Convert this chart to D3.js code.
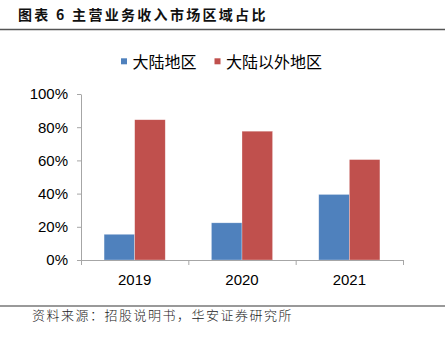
<!DOCTYPE html>
<html><head><meta charset="utf-8">
<script src="https://cdn.jsdelivr.net/npm/d3@7"></script>
<style>body{margin:0;background:#fff}svg{display:block}</style>
</head><body><svg id="c" width="445" height="338"></svg>
<script>
const categories = ["2019","2020","2021"];
const seriesNames = ["大陆地区","大陆以外地区"];
const mainland = [15.5, 22.4, 39.5];
const overseas = [84.5, 77.6, 60.5];
const yTicks = [0,20,40,60,80,100];
const colors = ["#4F81BD","#C0504D"];

const svg = d3.select("#c");
// title
svg.append("text").attr("x",18).attr("y",20).attr("font-family","Noto Sans CJK SC").attr("font-weight","bold")
  .attr("font-size",14).attr("letter-spacing",2.3).attr("fill","#111").text("图表 6 主营业务收入市场区域占比");
svg.append("line").attr("x1",0).attr("x2",445).attr("y1",29.5).attr("y2",29.5).attr("stroke","#555").attr("stroke-width",1.5);
svg.append("line").attr("x1",0).attr("x2",445).attr("y1",306).attr("y2",306).attr("stroke","#777").attr("stroke-width",1.5);
svg.append("text").attr("x",32).attr("y",320).attr("font-family","Noto Sans CJK SC").attr("font-weight",300)
  .attr("font-size",13).attr("letter-spacing",1.5).attr("fill","#222").text("资料来源：招股说明书，华安证券研究所");

const x0 = d3.scaleBand().domain(categories).range([81,403]).paddingInner(0.43).paddingOuter(0.215);
const x1 = d3.scaleBand().domain([0,1]).range([0,x0.bandwidth()]);
const y = d3.scaleLinear().domain([0,100]).range([260,94]);

// y axis
const ya = svg.append("g").attr("transform","translate(81,0)")
  .call(d3.axisLeft(y).tickValues(yTicks).tickFormat(d=>d+"%").tickSize(4).tickSizeOuter(0));
ya.select(".domain").attr("stroke","#A6A6A6");
ya.selectAll(".tick line").attr("stroke","#A6A6A6");
ya.selectAll("text").attr("font-family","Liberation Sans, Arial").attr("font-size",15).attr("fill","#000").attr("x",-13);

const xOuter = d3.scaleLinear().domain([0,3]).range([81,403]);
const xa = svg.append("g").attr("transform","translate(0,260)")
  .call(d3.axisBottom(xOuter).tickValues([0,1,2,3]).tickFormat("").tickSize(5).tickSizeOuter(0));
xa.select(".domain").attr("stroke","#A6A6A6");
xa.selectAll(".tick line").attr("stroke","#A6A6A6");
svg.append("g").selectAll("text").data(categories).join("text")
  .attr("x",d=>x0(d)+x0.bandwidth()/2).attr("y",284.5).attr("text-anchor","middle")
  .attr("font-family","Liberation Sans, Arial").attr("font-size",15).attr("fill","#000").text(d=>d);

const series=[mainland,overseas];
series.forEach((vals,si)=>{
  svg.append("g").selectAll("rect").data(vals).join("rect")
    .attr("x",(d,i)=>x0(categories[i])+x1(si)).attr("width",x1.bandwidth())
    .attr("y",d=>y(d)).attr("height",d=>260-y(d)).attr("fill",colors[si])
    .attr("stroke","#fff").attr("stroke-opacity",0.5).attr("stroke-width",0.6);
});
// redraw axis line on top
svg.append("line").attr("x1",81).attr("x2",403).attr("y1",260.5).attr("y2",260.5).attr("stroke","#A6A6A6");

// legend
const legX=[121,214.5];
seriesNames.forEach((n,i)=>{
  svg.append("rect").attr("x",legX[i]).attr("y",58.3).attr("width",6).attr("height",6).attr("fill",colors[i]);
  svg.append("text").attr("x",legX[i]+11.5).attr("y",67.5).attr("font-family","Noto Sans CJK SC").attr("font-size",16).attr("fill","#000").text(n);
});
</script></body></html>
